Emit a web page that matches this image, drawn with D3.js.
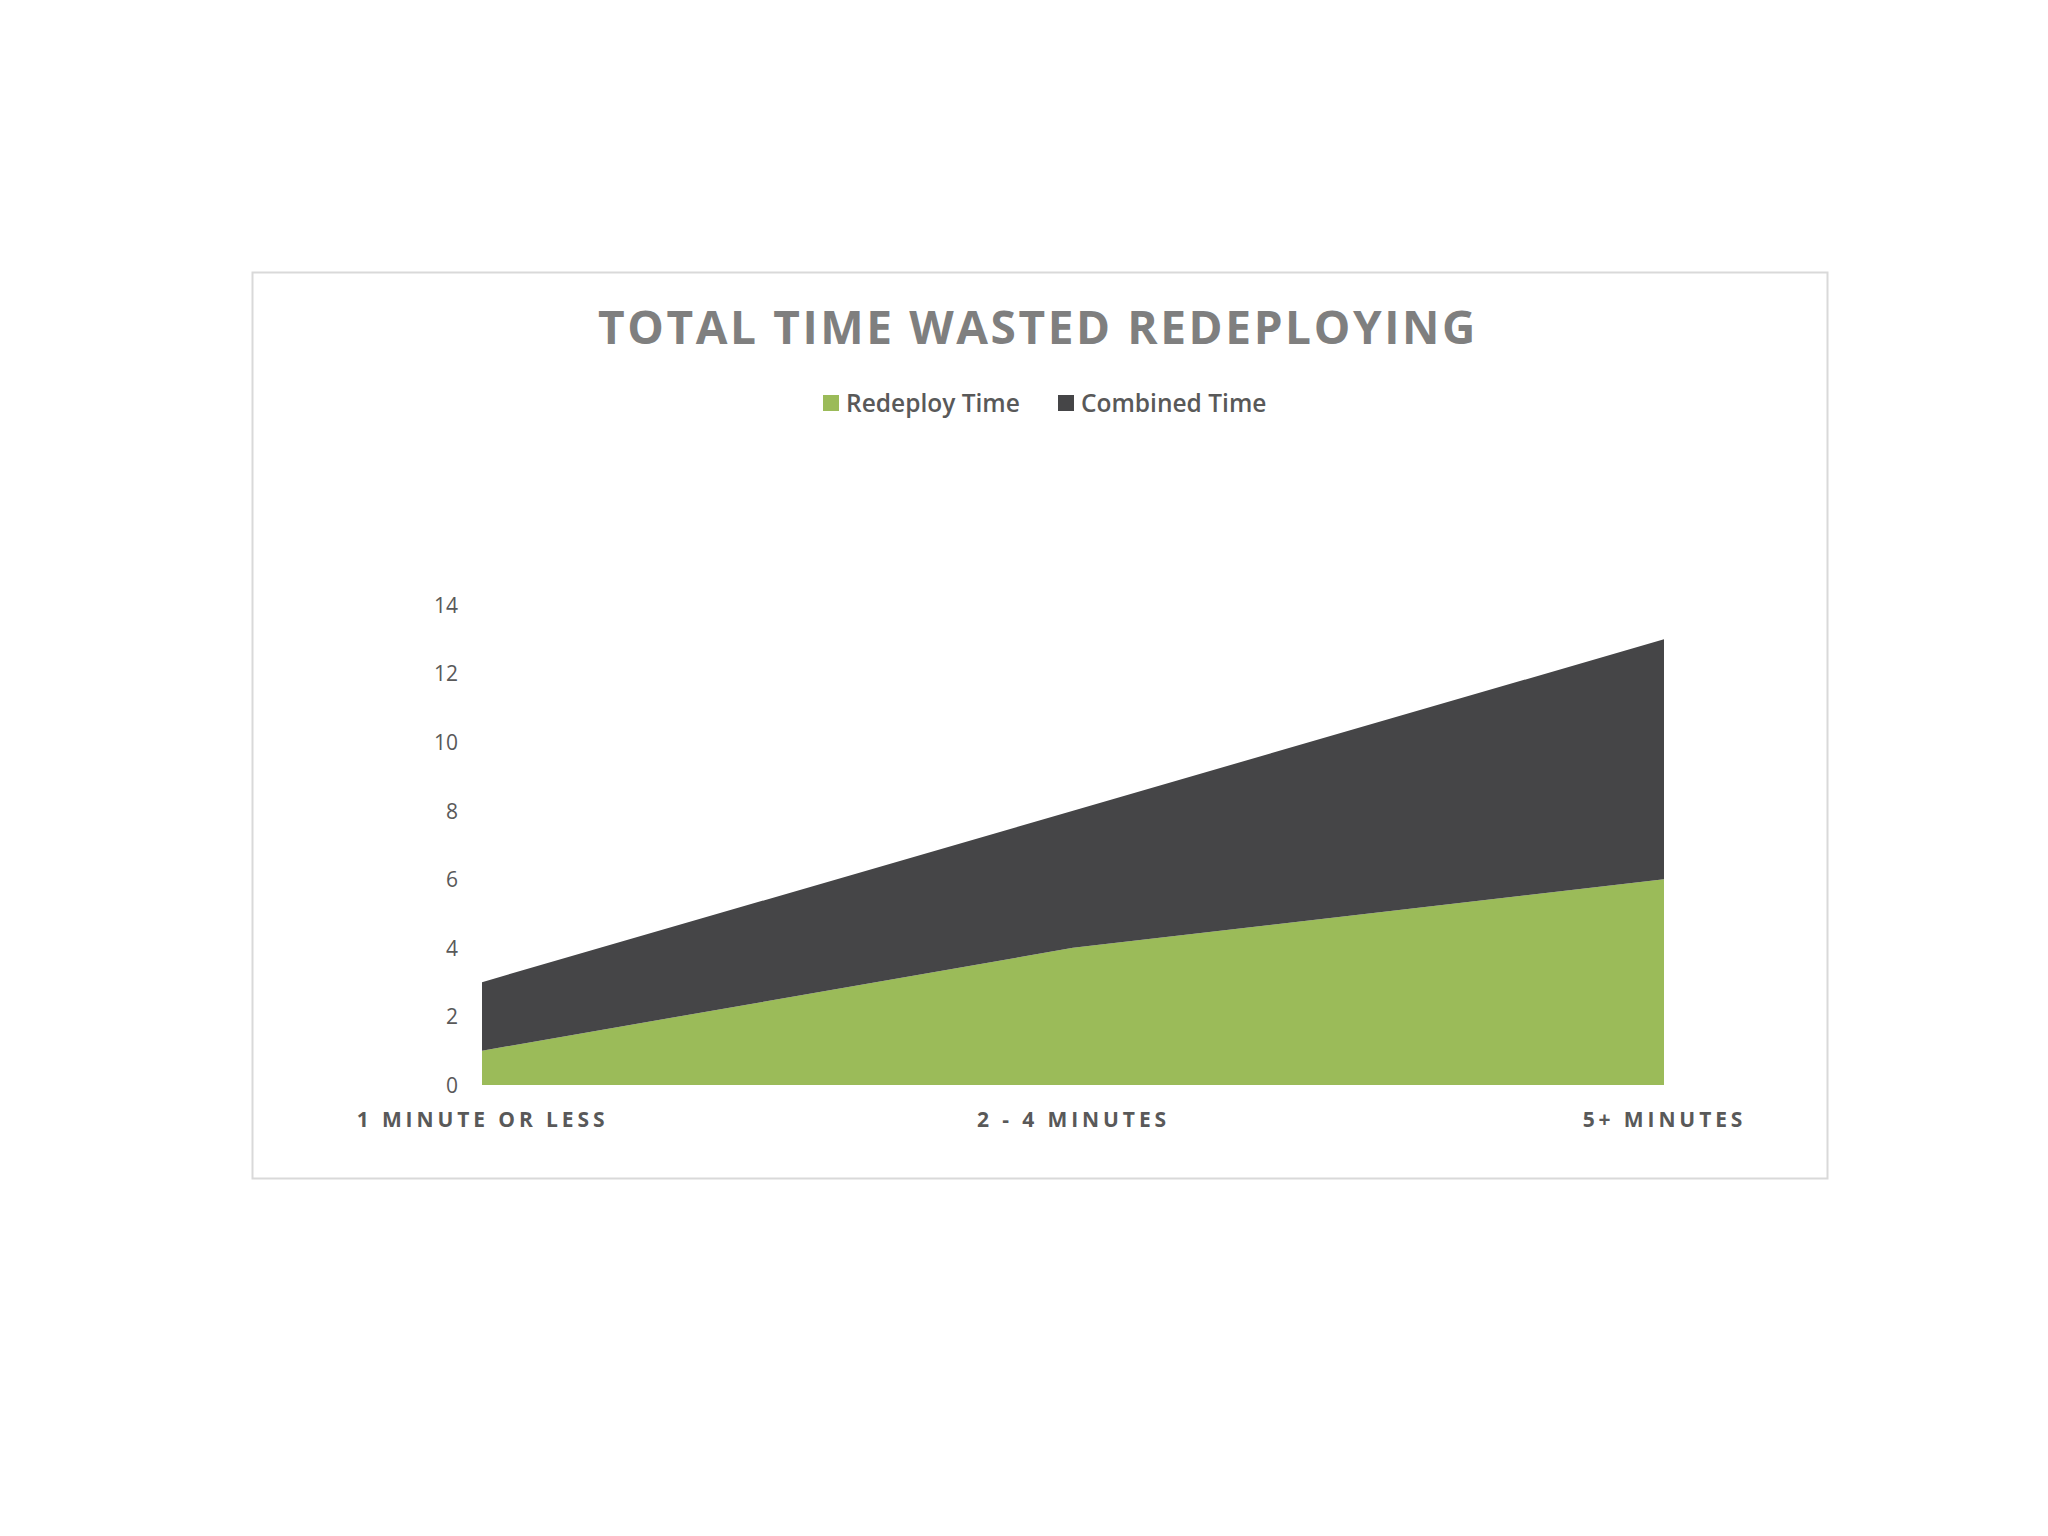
<!DOCTYPE html>
<html>
<head>
<meta charset="utf-8">
<script src="https://cdn.jsdelivr.net/npm/d3@7"></script>
<style>
  html, body { margin: 0; padding: 0; background: #ffffff; }
  svg { display: block; }
</style>
</head>
<body>
<svg id="chart" width="2048" height="1536"></svg>
<script>
const categories = ["1 MINUTE OR LESS", "2 - 4 MINUTES", "5+ MINUTES"];
const seriesNames = ["Redeploy Time", "Combined Time"];
const redeployTime = [1, 4, 6];
const combinedTime = [2, 4, 7];
const yTicks = [0, 2, 4, 6, 8, 10, 12, 14];
const colors = ["#9bbb59", "#454547"];
const titleText = "TOTAL TIME WASTED REDEPLOYING";

const svg = d3.select("#chart");
const font = "'Open Sans', 'Noto Sans', sans-serif";

// chart frame
svg.append("rect")
  .attr("x", 252.5).attr("y", 272.5)
  .attr("width", 1575).attr("height", 906)
  .attr("fill", "#ffffff")
  .attr("stroke", "#d9d9d9").attr("stroke-width", 2);

// title
svg.append("text")
  .attr("x", 1038).attr("y", 344)
  .attr("text-anchor", "middle")
  .attr("font-family", font)
  .attr("font-weight", 700)
  .attr("font-size", 46)
  .attr("letter-spacing", 2.6)
  .attr("fill", "#7f7f7f")
  .text(titleText);

// scales
const x = d3.scalePoint().domain(categories).range([482, 1664]);
const y = d3.scaleLinear().domain([0, 14]).range([1085, 605]);

const table = categories.map((c, i) => ({ cat: c, "Redeploy Time": redeployTime[i], "Combined Time": combinedTime[i] }));
const stacked = d3.stack().keys(seriesNames)(table);

const area = d3.area()
  .x(d => x(d.data.cat))
  .y0(d => y(d[0]))
  .y1(d => y(d[1]));

svg.append("g").selectAll("path")
  .data(stacked)
  .join("path")
  .attr("d", area)
  .attr("fill", (d, i) => colors[i]);

// y axis
const yAxis = d3.axisLeft(y).tickValues(yTicks).tickSize(0).tickPadding(0);
const yg = svg.append("g").attr("transform", "translate(458,0)").call(yAxis);
yg.select(".domain").remove();
yg.selectAll("text")
  .attr("font-family", font)
  .attr("font-size", 21)
  .attr("fill", "#595959")
  .attr("dy", "0.35em");

// x axis
const xAxis = d3.axisBottom(x).tickSize(0).tickPadding(0);
const xg = svg.append("g").attr("transform", "translate(0,1120)").call(xAxis);
xg.select(".domain").remove();
xg.selectAll("text")
  .attr("font-family", font)
  .attr("font-weight", 700)
  .attr("font-size", 21)
  .attr("letter-spacing", 3.9)
  .attr("fill", "#595959")
  .attr("dy", "0.35em");

// legend
const legendItems = [
  { name: seriesNames[0], color: colors[0], x: 823 },
  { name: seriesNames[1], color: colors[1], x: 1058 }
];
const lg = svg.append("g");
legendItems.forEach(it => {
  lg.append("rect")
    .attr("x", it.x).attr("y", 395)
    .attr("width", 16).attr("height", 16)
    .attr("fill", it.color);
  lg.append("text")
    .attr("x", it.x + 23).attr("y", 403)
    .attr("dy", "0.35em")
    .attr("font-family", font)
    .attr("font-weight", 600)
    .attr("font-size", 24.5)
    .attr("fill", "#595959")
    .text(it.name);
});
</script>
</body>
</html>
